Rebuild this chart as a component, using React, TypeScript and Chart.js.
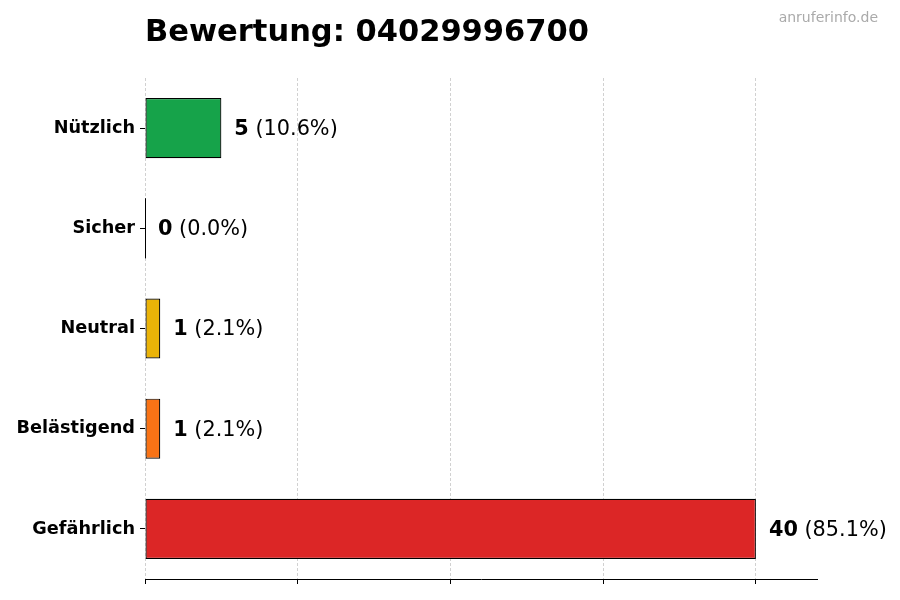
import React, { useEffect, useRef } from "react";
import { Chart, registerables } from "chart.js";

Chart.register(...registerables);

const categories = ["Nützlich", "Sicher", "Neutral", "Belästigend", "Gefährlich"];
const counts = [5, 0, 1, 1, 40];
const barColors = ["#16a34a", "#3b82f6", "#eab308", "#f97316", "#dc2626"];
const xTicks = [0, 10, 20, 30, 40];
const titleText = "Bewertung: 04029996700";
const watermark = "anruferinfo.de";
const FONT = "'DejaVu Sans', sans-serif";

const overlayPlugin = {
  id: "overlay",
  afterDatasetsDraw(chart: any) {
    const ctx = chart.ctx;
    const meta = chart.getDatasetMeta(0);
    meta.data.forEach((el: any, i: number) => {
      if (counts[i] === 0) {
        const h = el.height;
        ctx.save();
        ctx.strokeStyle = "#000";
        ctx.lineWidth = 1;
        ctx.beginPath();
        ctx.moveTo(Math.round(el.x) + 0.5, el.y - h / 2);
        ctx.lineTo(Math.round(el.x) + 0.5, el.y + h / 2);
        ctx.stroke();
        ctx.restore();
      }
    });
  },
  afterDraw(chart: any) {
    const ctx = chart.ctx;
    const area = chart.chartArea;
    const total = counts.reduce((a, b) => a + b, 0);
    const meta = chart.getDatasetMeta(0);
    ctx.save();
    ctx.textBaseline = "middle";
    ctx.textAlign = "left";
    meta.data.forEach((el: any, i: number) => {
      const x = el.x + 13;
      const y = el.y + 1.5;
      ctx.fillStyle = "#000";
      ctx.font = `bold 20.8px ${FONT}`;
      const num = String(counts[i]);
      ctx.fillText(num, x, y);
      const w = ctx.measureText(num).width;
      ctx.font = `20.8px ${FONT}`;
      const pct = total ? ((counts[i] / total) * 100).toFixed(1) : "0.0";
      ctx.fillText(` (${pct}%)`, x + w, y);
    });
    // title
    ctx.textBaseline = "alphabetic";
    ctx.font = `bold 30.5px ${FONT}`;
    ctx.fillStyle = "#000";
    ctx.fillText(titleText, area.left, 41);
    // watermark
    ctx.font = `14px ${FONT}`;
    ctx.fillStyle = "#aaaaaa";
    ctx.textAlign = "right";
    ctx.fillText(watermark, 878, 22);
    ctx.restore();
  },
};

export default function App() {
  const ref = useRef<HTMLCanvasElement | null>(null);
  useEffect(() => {
    document.body.style.margin = "0";
    const canvas = ref.current;
    if (!canvas) return;
    const chart = new Chart(canvas, {
      type: "bar",
      data: {
        labels: categories,
        datasets: [
          {
            data: counts,
            backgroundColor: barColors,
            borderColor: "#000",
            borderWidth: 1.2,
            borderSkipped: false,
            barPercentage: 0.6,
            categoryPercentage: 1.0,
          },
        ],
      },
      options: {
        indexAxis: "y",
        responsive: false,
        animation: false,
        devicePixelRatio: 1,
        layout: { padding: { left: 0, top: 78, right: 83, bottom: 15 } },
        plugins: {
          legend: { display: false },
          tooltip: { enabled: false },
          title: { display: false },
        },
        scales: {
          x: {
            type: "linear",
            min: 0,
            max: 44,
            z: 1,
            afterBuildTicks: (scale: any) => {
              scale.ticks = xTicks.map((v) => ({ value: v }));
            },
            afterFit: (scale: any) => {
              scale.height = 6;
            },
            ticks: { display: false },
            grid: {
              display: true,
              color: "rgba(0,0,0,0.18)",
              lineWidth: 1,
              drawTicks: true,
              tickLength: 5,
              tickColor: "#000",
              tickBorderDash: [],
            } as any,
            border: { display: true, color: "#000", width: 1, dash: [3, 2] },
          },
          y: {
            type: "category",
            offset: true,
            afterFit: (scale: any) => {
              scale.width = 145;
            },
            ticks: {
              color: "#000",
              padding: 5,
              font: { family: FONT, size: 17.7, weight: "bold" },
            },
            grid: {
              display: true,
              offset: false,
              drawOnChartArea: false,
              drawTicks: true,
              tickLength: 5,
              tickColor: "#000",
            },
            border: { display: false },
          },
        },
      },
      plugins: [overlayPlugin],
    } as any);
    return () => chart.destroy();
  }, []);
  return (
    <div style={{ width: 900, height: 600, background: "#fff" }}>
      <canvas ref={ref} width={900} height={600} style={{ display: "block" }} />
    </div>
  );
}
